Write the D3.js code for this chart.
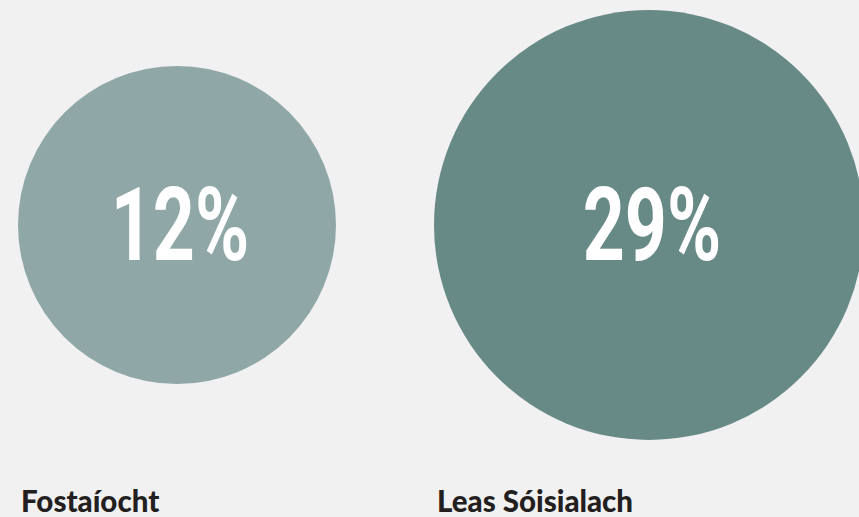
<!DOCTYPE html>
<html>
<head>
<meta charset="utf-8">
<script src="https://cdn.jsdelivr.net/npm/d3@7"></script>
<style>
  html, body { margin: 0; padding: 0; background: #f1f1f1; }
  #chart { width: 859px; height: 517px; }
</style>
</head>
<body>
<div id="chart"></div>
<script>
// Two proportional bubbles with a big percentage in the middle

const categories = ["Fostaíocht", "Leas Sóisialach"];
const values = [12, 29];
const colors = ["#8fa8a7", "#688a87"];

const width = 859, height = 517;

const svg = d3.select("#chart").append("svg")
    .attr("width", width)
    .attr("height", height);

// columns: each category gets a slot, label sits at the slot's left edge
const x = d3.scaleBand()
    .domain(categories)
    .range([20, 852]);

const r = d3.scaleLinear()
    .domain(d3.extent(values))
    .range([159, 215]);

const cy = 225;

const rows = categories.map((c, i) => ({ cat: c, val: values[i], color: colors[i] }));

const g = svg.selectAll(".bubble")
    .data(rows)
    .enter()
    .append("g")
    .attr("class", "bubble");

g.append("circle")
    .attr("cx", d => x(d.cat) + r(d.val) - 2)
    .attr("cy", cy)
    .attr("r", d => r(d.val))
    .attr("fill", d => d.color);

// condensed look: squeeze Roboto horizontally around the circle centre
g.append("text")
    .attr("transform", d => `translate(${x(d.cat) + r(d.val) + 1},${cy + 35}) scale(0.72,1)`)
    .attr("text-anchor", "middle")
    .attr("fill", "#ffffff")
    .attr("font-family", "Roboto, sans-serif")
    .attr("font-weight", 700)
    .attr("font-size", "102px")
    .text(d => d.val + "%");

g.append("text")
    .attr("x", d => x(d.cat) + 1)
    .attr("y", 512)
    .attr("fill", "#231f20")
    .attr("font-family", "Lato, sans-serif")
    .attr("font-weight", 900)
    .attr("font-size", "29.5px")
    .text(d => d.cat);
</script>
</body>
</html>
